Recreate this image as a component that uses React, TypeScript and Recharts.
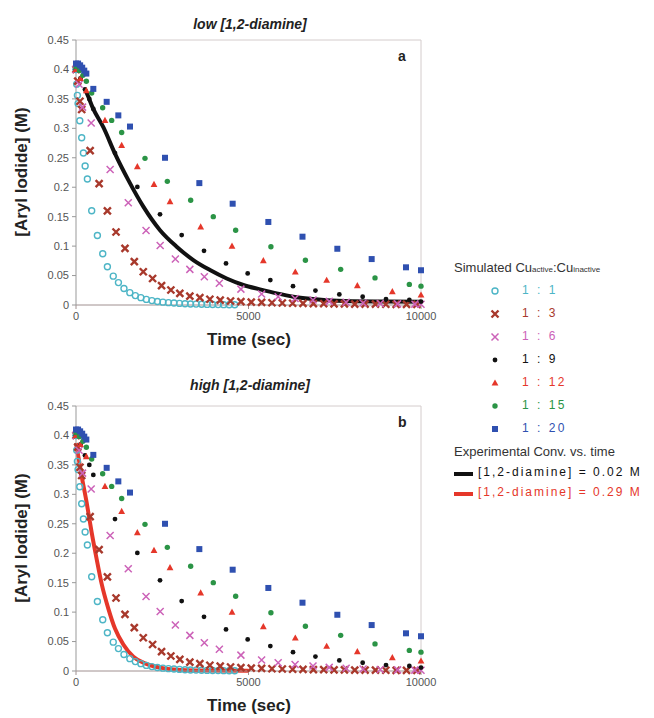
import React from 'react';
import {
  ComposedChart,
  Scatter,
  Line,
  XAxis,
  YAxis,
  ReferenceLine,
} from 'recharts';

type Pt = [number, number];

// simulated Cu(active):Cu(inactive) runs, [time (s), [ArI] (M)]
const SIM_1_1: Pt[] = [
  [0, 0.4], [20, 0.375], [40, 0.356], [60, 0.342], [110, 0.313], [165, 0.284],
  [215, 0.258], [265, 0.236], [330, 0.214], [455, 0.16], [620, 0.118], [775, 0.087],
  [910, 0.065], [1080, 0.049], [1230, 0.038], [1390, 0.028], [1560, 0.021],
  [1720, 0.016], [1880, 0.0125], [2040, 0.0095], [2200, 0.0075], [2360, 0.006],
  [2520, 0.0048], [2680, 0.004], [2840, 0.0033], [3000, 0.0027], [3160, 0.0022],
  [3320, 0.0018], [3480, 0.0015], [3640, 0.0012], [3800, 0.001], [3960, 0.0008],
  [4120, 0.0007], [4280, 0.0006], [4440, 0.0005], [4600, 0.0004],
];
const SIM_1_3: Pt[] = [
  [0, 0.4], [50, 0.38], [115, 0.346], [165, 0.332], [410, 0.262], [670, 0.206],
  [910, 0.16], [1160, 0.124], [1420, 0.096], [1690, 0.0735], [1950, 0.0565],
  [2220, 0.045], [2480, 0.033], [2750, 0.0255], [3010, 0.0198], [3300, 0.015],
  [3590, 0.0124], [3880, 0.0098], [4180, 0.0082], [4480, 0.0068], [4780, 0.0058],
  [5080, 0.005], [5380, 0.0044], [5680, 0.0038], [5980, 0.0034], [6280, 0.003],
  [6580, 0.0027], [6880, 0.0024], [7180, 0.0022], [7480, 0.002], [7780, 0.0018],
  [8080, 0.0016], [8380, 0.0015], [8680, 0.0014], [8980, 0.0013], [9280, 0.0012],
  [9580, 0.0011], [9880, 0.001],
];
const SIM_1_6: Pt[] = [
  [0, 0.4], [90, 0.375], [190, 0.336], [440, 0.309], [990, 0.23], [1515, 0.1735],
  [2030, 0.1265], [2440, 0.101], [2880, 0.078], [3300, 0.0605], [3720, 0.048],
  [4155, 0.037], [4780, 0.027], [5380, 0.0187], [5860, 0.014], [6350, 0.011],
  [6870, 0.0085], [7340, 0.0062], [7830, 0.0046], [8320, 0.0034], [8820, 0.0026],
  [9320, 0.0019], [9820, 0.0015], [10000, 0.0013],
];
const SIM_1_9: Pt[] = [
  [0, 0.4], [130, 0.385], [260, 0.366], [386, 0.35], [502, 0.333], [1130, 0.258],
  [1778, 0.2005], [2435, 0.154], [3063, 0.1187], [3710, 0.092], [4348, 0.0706],
  [4976, 0.0537], [5633, 0.0424], [6290, 0.032], [6940, 0.0245], [7633, 0.018],
  [8309, 0.014], [8986, 0.01], [9662, 0.0085], [10000, 0.0058],
];
const SIM_1_12: Pt[] = [
  [0, 0.4], [130, 0.385], [300, 0.364], [840, 0.3135], [1324, 0.271], [1778, 0.235],
  [2261, 0.205], [2725, 0.1755], [3614, 0.1325], [4522, 0.1], [5430, 0.0755],
  [6357, 0.056], [7265, 0.042], [8155, 0.0328], [9169, 0.0227], [10000, 0.017],
];
const SIM_1_15: Pt[] = [
  [0, 0.405], [100, 0.398], [200, 0.39], [300, 0.38], [455, 0.36], [773, 0.335],
  [1034, 0.3135], [1324, 0.293], [2000, 0.249], [2647, 0.21], [3324, 0.178],
  [3980, 0.15], [4628, 0.127], [5650, 0.099], [6650, 0.076], [7672, 0.0605],
  [8667, 0.046], [9662, 0.035], [10000, 0.032],
];
const SIM_1_20: Pt[] = [
  [0, 0.41], [60, 0.41], [120, 0.407], [180, 0.403], [240, 0.398], [300, 0.393],
  [502, 0.367], [889, 0.345], [1227, 0.322], [1565, 0.303], [2580, 0.25],
  [3575, 0.207], [4541, 0.172], [5575, 0.141], [6565, 0.116], [7575, 0.0955],
  [8570, 0.078], [9565, 0.064], [10000, 0.059],
];

// experimental curves
const EXP_LOW: Pt[] = [
  [260, 0.366], [310, 0.36], [500, 0.333], [792, 0.302], [1130, 0.257],
  [1517, 0.212], [1952, 0.167], [2435, 0.127], [2918, 0.099], [3400, 0.0763],
  [3884, 0.0593], [4367, 0.045], [4850, 0.034], [5333, 0.0266], [5817, 0.0198],
  [6300, 0.0141], [6783, 0.0105], [7266, 0.008], [8000, 0.0065], [9000, 0.006],
  [10000, 0.0056],
];
const EXP_HIGH: Pt[] = [
  [0, 0.387], [80, 0.36], [164, 0.331], [309, 0.286], [455, 0.235], [599, 0.19],
  [744, 0.148], [937, 0.106], [1130, 0.072], [1372, 0.045], [1662, 0.0243],
  [2000, 0.013], [2435, 0.0057], [2918, 0.002], [3500, 0.0008], [5000, 0.0004],
];

const X_TICKS = [0, 5000, 10000];
const Y_TICKS = [0, 0.05, 0.1, 0.15, 0.2, 0.25, 0.3, 0.35, 0.4, 0.45];

const FONT = '"Liberation Sans", Arial, sans-serif';

const toRows = (pts: Pt[]) => pts.map(([t, v]) => ({ t, v }));

type Marker = 'ring' | 'boldX' | 'thinX' | 'dot' | 'tri' | 'gem' | 'square';

// draws one marker glyph at cx, cy
function drawMarker(kind: Marker, color: string, cx: number, cy: number) {
  switch (kind) {
    case 'ring':
      return <circle cx={cx} cy={cy} r={3} fill="none" stroke={color} strokeWidth={1.4} />;
    case 'boldX':
      return (
        <path
          d={`M${cx - 3.5},${cy - 3.5}L${cx + 3.5},${cy + 3.5}M${cx + 3.5},${cy - 3.5}L${cx - 3.5},${cy + 3.5}`}
          stroke={color}
          strokeWidth={2.4}
        />
      );
    case 'thinX':
      return (
        <path
          d={`M${cx - 3.5},${cy - 3.5}L${cx + 3.5},${cy + 3.5}M${cx + 3.5},${cy - 3.5}L${cx - 3.5},${cy + 3.5}`}
          stroke={color}
          strokeWidth={1.5}
        />
      );
    case 'dot':
      return <circle cx={cx} cy={cy} r={2.4} fill={color} />;
    case 'tri':
      return <polygon points={`${cx},${cy - 3.6} ${cx + 3.4},${cy + 2.6} ${cx - 3.4},${cy + 2.6}`} fill={color} />;
    case 'gem':
      return <circle cx={cx} cy={cy} r={2.7} fill={color} />;
    default:
      return <rect x={cx - 3} y={cy - 3} width={6} height={6} fill={color} />;
  }
}

interface SimSeries {
  label: string;
  data: Pt[];
  color: string;
  marker: Marker;
}

const SIM_SERIES: SimSeries[] = [
  { label: '1 : 1', data: SIM_1_1, color: '#4db5c6', marker: 'ring' },
  { label: '1 : 3', data: SIM_1_3, color: '#a8392c', marker: 'boldX' },
  { label: '1 : 6', data: SIM_1_6, color: '#cc62b8', marker: 'thinX' },
  { label: '1 : 9', data: SIM_1_9, color: '#111111', marker: 'dot' },
  { label: '1 : 12', data: SIM_1_12, color: '#e5372a', marker: 'tri' },
  { label: '1 : 15', data: SIM_1_15, color: '#2b9446', marker: 'gem' },
  { label: '1 : 20', data: SIM_1_20, color: '#2f50b0', marker: 'square' },
];

const fmtY = (v: number) => String(Number(v.toFixed(2)));

function Panel({ top, title, tag, exp, expColor }: {
  top: number; title: string; tag: string; exp: Pt[]; expColor: string;
}) {
  return (
    <div style={{ position: 'absolute', left: 0, top, width: 440, height: 345 }}>
      <ComposedChart width={440} height={345} margin={{ top: 40, right: 19, bottom: 20, left: 30 }}>
        <XAxis
          type="number"
          dataKey="t"
          domain={[0, 10000]}
          ticks={X_TICKS}
          height={20}
          tickSize={4}
          tickMargin={3}
          stroke="#a09090"
          tick={{ fontSize: 11, fill: '#555', fontFamily: FONT }}
        />
        <YAxis
          type="number"
          dataKey="v"
          domain={[0, 0.45]}
          ticks={Y_TICKS}
          width={46}
          tickSize={4}
          tickMargin={3}
          stroke="#999"
          tickFormatter={fmtY}
          tick={{ fontSize: 11, fill: '#555', fontFamily: FONT }}
        />
        <ReferenceLine y={0.45} stroke="#d4cccc" />
        <ReferenceLine x={10000} stroke="#d4cccc" />
        {SIM_SERIES.map((s) => (
          <Scatter
            key={s.label}
            data={toRows(s.data)}
            isAnimationActive={false}
            shape={(p: any) => drawMarker(s.marker, s.color, p.cx, p.cy)}
          />
        ))}
        <Line
          data={toRows(exp)}
          dataKey="v"
          type="monotone"
          stroke={expColor}
          strokeWidth={4}
          dot={false}
          isAnimationActive={false}
        />
      </ComposedChart>
      <div style={{ position: 'absolute', left: 150, width: 200, top: 0, textAlign: 'center', lineHeight: '18px', fontSize: 14, fontWeight: 'bold', fontStyle: 'italic', color: '#222', transform: `translateY(${tag === 'a' ? 15 : 10}px)` }}>
        {title}
      </div>
      <div style={{ position: 'absolute', left: 398, top: 48, fontSize: 14, fontWeight: 'bold', color: '#222' }}>{tag}</div>
      <div style={{ position: 'absolute', left: 149, width: 200, top: 330, textAlign: 'center', fontSize: 17, fontWeight: 'bold', color: '#222', lineHeight: '20px' }}>
        Time (sec)
      </div>
      <div style={{ position: 'absolute', left: 22 - 100, top: 172 - 10, width: 200, height: 20, textAlign: 'center', fontSize: 17, fontWeight: 'bold', color: '#222', lineHeight: '20px', transform: 'rotate(-90deg)' }}>
        [Aryl Iodide] (M)
      </div>
    </div>
  );
}

function SideLegend() {
  return (
    <div style={{ position: 'absolute', left: 454, top: 259, width: 200, color: '#333' }}>
      <div style={{ fontSize: 13, lineHeight: '18px', whiteSpace: 'nowrap' }}>
        Simulated Cu<span style={{ fontSize: 8 }}>active</span>:Cu<span style={{ fontSize: 8 }}>inactive</span>
      </div>
      {SIM_SERIES.map((s, i) => (
        <div key={s.label} style={{ position: 'absolute', left: 0, top: 23 + i * 23, height: 18, width: 200 }}>
          <svg width={60} height={18} style={{ position: 'absolute', left: 0, top: 0 }}>
            {drawMarker(s.marker, s.color, 41, 9)}
          </svg>
          <span style={{ position: 'absolute', left: 68, top: 1, fontSize: 12, letterSpacing: 2.5, color: s.color, whiteSpace: 'nowrap' }}>
            {s.label}
          </span>
        </div>
      ))}
      <div style={{ position: 'absolute', left: 0, top: 184, fontSize: 13, lineHeight: '18px', whiteSpace: 'nowrap' }}>
        Experimental Conv. vs. time
      </div>
      {[
        { text: '[1,2-diamine] = 0.02 M', color: '#111' },
        { text: '[1,2-diamine] = 0.29 M', color: '#e5372a' },
      ].map((r, i) => (
        <div key={r.text} style={{ position: 'absolute', left: 0, top: 205 + i * 20, height: 18, width: 200 }}>
          <div style={{ position: 'absolute', left: 0, top: 8, width: 19, height: 3.5, background: r.color }} />
          <span style={{ position: 'absolute', left: 24, top: 1, fontSize: 12, letterSpacing: 2, color: r.color, whiteSpace: 'nowrap' }}>
            {r.text}
          </span>
        </div>
      ))}
    </div>
  );
}

export default function App() {
  return (
    <div style={{ position: 'absolute', left: 0, top: 0, width: 654, height: 718, background: '#fff', fontFamily: FONT, overflow: 'hidden' }}>
      <Panel top={0} title="low [1,2-diamine]" tag="a" exp={EXP_LOW} expColor="#111" />
      <Panel top={366} title="high [1,2-diamine]" tag="b" exp={EXP_HIGH} expColor="#e5372a" />
      <SideLegend />
    </div>
  );
}
